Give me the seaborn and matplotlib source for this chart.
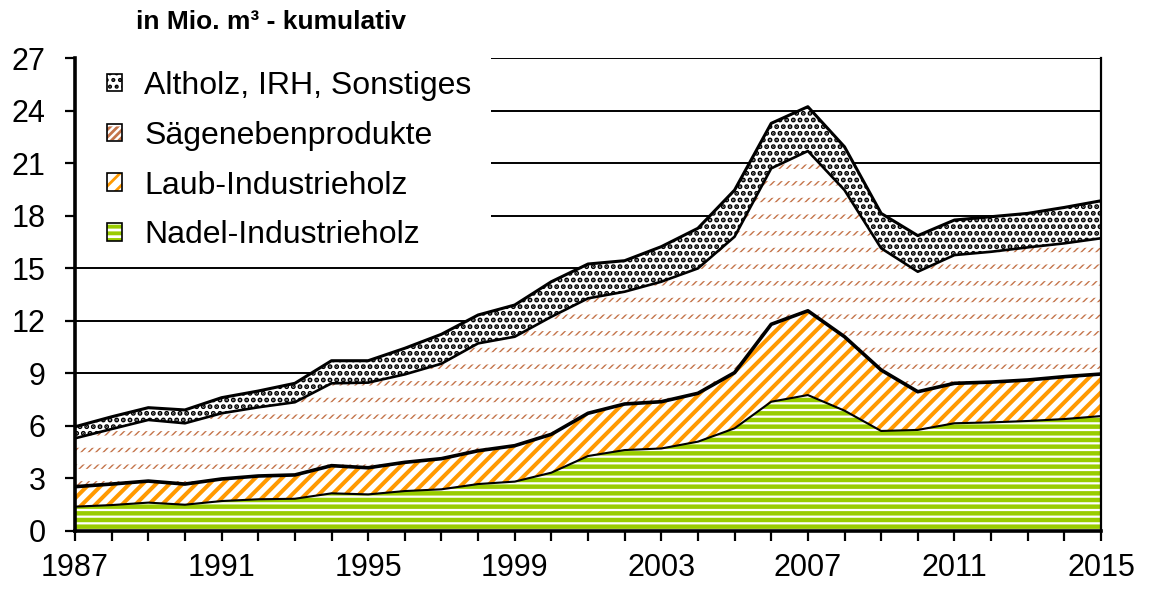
import matplotlib as mpl
mpl.use("Agg")
import matplotlib.pyplot as plt
from matplotlib.patches import Patch, Rectangle
from matplotlib.legend_handler import HandlerTuple
from matplotlib.ticker import FixedLocator, MultipleLocator
import numpy as np
import pandas as pd
import seaborn as sns

years = list(range(1987, 2016))

# Mio. m³ per Sortiment (gestapelt = kumulativ)
nadel = [1.39, 1.48, 1.62, 1.50, 1.71, 1.81, 1.84, 2.15, 2.09, 2.28,
         2.38, 2.68, 2.82, 3.33, 4.28, 4.62, 4.71, 5.10, 5.86, 7.38,
         7.76, 6.87, 5.71, 5.77, 6.15, 6.20, 6.28, 6.39, 6.56]
laub = [1.14, 1.20, 1.23, 1.18, 1.26, 1.33, 1.36, 1.58, 1.52, 1.64,
        1.75, 1.90, 2.05, 2.19, 2.44, 2.63, 2.67, 2.76, 3.18, 4.42,
        4.81, 4.22, 3.48, 2.18, 2.28, 2.30, 2.34, 2.42, 2.40]
saege = [2.76, 3.14, 3.49, 3.47, 3.75, 3.92, 4.15, 4.70, 4.86, 5.02,
         5.42, 6.13, 6.22, 6.71, 6.56, 6.41, 6.85, 7.13, 7.76, 8.90,
         9.12, 8.37, 6.95, 6.85, 7.32, 7.44, 7.57, 7.61, 7.75]
altholz = [0.66, 0.70, 0.70, 0.76, 0.89, 0.93, 1.08, 1.29, 1.25, 1.49,
           1.68, 1.62, 1.81, 2.00, 1.96, 1.77, 2.00, 2.29, 2.66, 2.57,
           2.53, 2.47, 1.99, 2.06, 2.00, 2.00, 1.94, 2.05, 2.14]

labels = ["Nadel-Industrieholz", "Laub-Industrieholz",
          "Sägenebenprodukte", "Altholz, IRH, Sonstiges"]
yticks = list(range(0, 28, 3))
xlabel_years = list(range(1987, 2016, 4))

GREEN = "#99cc00"
ORANGE = "#ff9900"
BROWN = "#c4744a"

sns.set_theme(style="ticks")
plt.rcParams["font.family"] = ["Liberation Sans", "DejaVu Sans"]
plt.rcParams["text.color"] = "black"

stack = np.cumsum(np.array([nadel, laub, saege, altholz]), axis=0)
zero = np.zeros(len(years))

DPI = 200
fig = plt.figure(figsize=(1152 / DPI, 590 / DPI), dpi=DPI)
ax = fig.add_axes([75 / 1152, 1 - 531 / 590, 1026 / 1152, 473 / 590])

# hatch styles: (face, hatch colour, pattern, hatch linewidth)
ST_NADEL = (GREEN, "white", "-----", 0.8)
ST_LAUB = ("white", ORANGE, "/////", 1.45)
ST_SAEGE = ("white", BROWN, "/" * 9, 0.5)
ST_MASK = ("none", "white", "--", 4.4)
ST_ALT = ("white", "black", ".....", 1.25)


def hatched(y1, y2, style, z=2):
    face, hcolor, hatch, hlw = style
    with plt.rc_context({"hatch.linewidth": hlw}):
        coll = ax.fill_between(years, y1, y2, facecolor=face, edgecolor=hcolor,
                               hatch=hatch, linewidth=0, zorder=z)
    if hasattr(coll, "set_hatch_linewidth"):
        coll.set_hatch_linewidth(hlw)
    return coll


def patch(style, lw=0, ec=None):
    face, hcolor, hatch, hlw = style
    with plt.rc_context({"hatch.linewidth": hlw}):
        p = Patch(facecolor=face, edgecolor=ec if ec else hcolor, hatch=hatch,
                  linewidth=lw)
    if hasattr(p, "set_hatch_linewidth"):
        p.set_hatch_linewidth(hlw)
    return p


# Flächen
hatched(zero, stack[0], ST_NADEL)
hatched(stack[0], stack[1], ST_LAUB)
hatched(stack[1], stack[2], ST_SAEGE)
hatched(stack[1], stack[2], ST_MASK, z=2.1)
hatched(stack[2], stack[3], ST_ALT)

# Umrisslinien
lines = pd.DataFrame({
    "Jahr": years * 4,
    "Wert": np.concatenate(stack),
    "Reihe": np.repeat(labels, len(years)),
})
sns.lineplot(data=lines, x="Jahr", y="Wert", units="Reihe", estimator=None,
             size="Reihe", sizes=dict(zip(labels, [0.75, 1.3, 0.95, 1.1])),
             color="black", legend=False, ax=ax, zorder=3)

ax.set_xlim(1987, 2015)
ax.set_ylim(0, 27)
ax.set_xlabel("")
ax.set_ylabel("")
ax.yaxis.set_major_locator(FixedLocator(yticks))
ax.xaxis.set_major_locator(FixedLocator(xlabel_years))
ax.xaxis.set_minor_locator(MultipleLocator(1))
ax.set_xticklabels([str(y) for y in xlabel_years])
ax.yaxis.grid(True, color="black", linewidth=0.7)
ax.set_axisbelow(True)

ax.tick_params(axis="both", which="both", direction="out", length=3.6,
               width=0.8, color="black", labelsize=11, labelcolor="black")
ax.tick_params(axis="y", pad=7.0)
ax.tick_params(axis="x", pad=4.5)
for side in ["left", "bottom"]:
    ax.spines[side].set_linewidth(1.3)
    ax.spines[side].set_color("black")
    ax.spines[side].set_zorder(6)
ax.spines["right"].set_visible(True)
ax.spines["right"].set_linewidth(0.8)
ax.spines["right"].set_color("black")
ax.spines["top"].set_visible(False)

# white box behind the legend hides the gridlines there
ax.add_patch(Rectangle((0.0, 0.595), 0.405, 0.42, transform=ax.transAxes,
                       facecolor="white", edgecolor="none", zorder=4,
                       clip_on=False))

# Legende
border = patch(("none", "black", "", 0), lw=0.6)
h_alt = (patch(ST_ALT), border)
h_saege = (patch(ST_SAEGE), patch(ST_MASK), border)
h_laub = (patch(ST_LAUB), border)
h_nadel = (patch(ST_NADEL), border)
leg = ax.legend([h_alt, h_saege, h_laub, h_nadel], labels[::-1],
                handler_map={tuple: HandlerTuple(ndivide=1, pad=0)},
                loc="upper left", bbox_to_anchor=(0.0, 1.04),
                borderaxespad=0, fontsize=11.5, frameon=False,
                handlelength=0.47, handleheight=0.47, handletextpad=0.7,
                labelspacing=0.62, borderpad=1.0, labelcolor="black")
leg.set_zorder(5)

fig.text(136 / 1152, 1 - 22 / 590, "in Mio. m³ - kumulativ",
         fontsize=9.5, fontweight="bold", va="center", ha="left",
         color="black")

fig.savefig("out.png", dpi=DPI)
plt.close(fig)
